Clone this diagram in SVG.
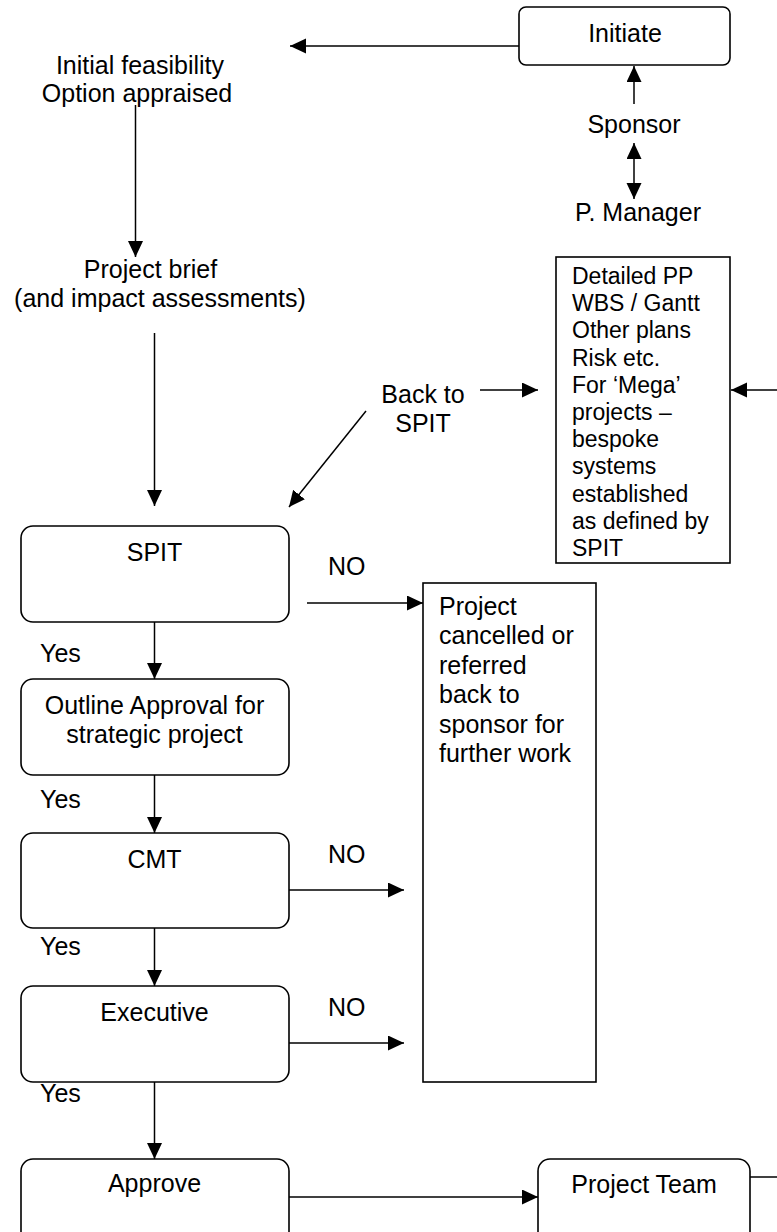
<svg xmlns="http://www.w3.org/2000/svg" width="777" height="1232" viewBox="0 0 777 1232">
  <defs>
    <style>
      text { font-family: "Liberation Sans", Arial, sans-serif; font-size: 25px; fill: #000; }
      .mid { text-anchor: middle; }
      .small { font-size: 23px; }
      .box { fill: #fff; stroke: #000; stroke-width: 1.6; }
      .edge { fill: none; stroke: #000; stroke-width: 1.5; }
    </style>
    <marker id="arrow" markerUnits="userSpaceOnUse" markerWidth="17" markerHeight="16" refX="16" refY="7.5" orient="auto-start-reverse">
      <path d="M0,0 L16,7.5 L0,15 z" fill="#000"/>
    </marker>
  </defs>

  <rect width="777" height="1232" fill="#fff"/>

  <!-- connectors -->
  <g id="connectors">
    <line class="edge" x1="519" y1="46" x2="290" y2="46" marker-end="url(#arrow)"/>
    <line class="edge" x1="634" y1="104" x2="634" y2="66" marker-end="url(#arrow)"/>
    <line class="edge" x1="634" y1="143" x2="634" y2="199" marker-start="url(#arrow)" marker-end="url(#arrow)"/>
    <line class="edge" x1="135.5" y1="105" x2="135.5" y2="257" marker-end="url(#arrow)"/>
    <line class="edge" x1="154.5" y1="333" x2="154.5" y2="506" marker-end="url(#arrow)"/>
    <line class="edge" x1="366" y1="411" x2="289" y2="507" marker-end="url(#arrow)"/>
    <line class="edge" x1="480" y1="390" x2="538" y2="390" marker-end="url(#arrow)"/>
    <line class="edge" x1="777" y1="390" x2="731" y2="390" marker-end="url(#arrow)"/>
    <line class="edge" x1="307" y1="603" x2="423" y2="603" marker-end="url(#arrow)"/>
    <line class="edge" x1="154.5" y1="622" x2="154.5" y2="679" marker-end="url(#arrow)"/>
    <line class="edge" x1="154.5" y1="775" x2="154.5" y2="833" marker-end="url(#arrow)"/>
    <line class="edge" x1="289" y1="890" x2="404" y2="890" marker-end="url(#arrow)"/>
    <line class="edge" x1="154.5" y1="928" x2="154.5" y2="986" marker-end="url(#arrow)"/>
    <line class="edge" x1="289" y1="1043" x2="404" y2="1043" marker-end="url(#arrow)"/>
    <line class="edge" x1="154.5" y1="1082" x2="154.5" y2="1159" marker-end="url(#arrow)"/>
    <line class="edge" x1="289" y1="1197" x2="538" y2="1197" marker-end="url(#arrow)"/>
    <line class="edge" x1="750" y1="1177" x2="777" y2="1177"/>
  </g>

  <!-- edge labels -->
  <g id="labels">
    <text x="328" y="575">NO</text>
    <text x="328" y="863">NO</text>
    <text x="328" y="1016">NO</text>
    <text x="40" y="662">Yes</text>
    <text x="40" y="808">Yes</text>
    <text x="40" y="955">Yes</text>
    <text x="40" y="1102">Yes</text>
  </g>

  <g id="initiate">
    <rect class="box" x="519" y="7" width="211" height="58" rx="7"/>
    <text class="mid" x="625" y="42">Initiate</text>
  </g>

  <g id="sponsor">
    <text class="mid" x="634" y="133">Sponsor</text>
  </g>

  <g id="p-manager">
    <text class="mid" x="638" y="221">P. Manager</text>
  </g>

  <g id="feasibility">
    <text class="mid" x="140" y="74">Initial feasibility</text>
    <text class="mid" x="137" y="102">Option appraised</text>
  </g>

  <g id="project-brief">
    <text class="mid" x="150.5" y="278">Project brief</text>
    <text class="mid" x="160" y="307">(and impact assessments)</text>
  </g>

  <g id="back-to-spit">
    <text class="mid" x="423" y="403">Back to</text>
    <text class="mid" x="423" y="432">SPIT</text>
  </g>

  <g id="detailed-plan">
    <rect class="box" x="556" y="257" width="174" height="306"/>
    <text class="small" x="572" y="284">Detailed PP</text>
    <text class="small" x="572" y="311.2">WBS / Gantt</text>
    <text class="small" x="572" y="338.4">Other plans</text>
    <text class="small" x="572" y="365.6">Risk etc.</text>
    <text class="small" x="572" y="392.8">For ‘Mega’</text>
    <text class="small" x="572" y="420">projects –</text>
    <text class="small" x="572" y="447.2">bespoke</text>
    <text class="small" x="572" y="474.4">systems</text>
    <text class="small" x="572" y="501.6">established</text>
    <text class="small" x="572" y="528.8">as defined by</text>
    <text class="small" x="572" y="556">SPIT</text>
  </g>

  <g id="spit">
    <rect class="box" x="21" y="526" width="268" height="96" rx="12"/>
    <text class="mid" x="154.5" y="561">SPIT</text>
  </g>

  <g id="cancelled">
    <rect class="box" x="423" y="583" width="173" height="499"/>
    <text x="439" y="615">Project</text>
    <text x="439" y="644">cancelled or</text>
    <text x="439" y="674">referred</text>
    <text x="439" y="703">back to</text>
    <text x="439" y="733">sponsor for</text>
    <text x="439" y="762">further work</text>
  </g>

  <g id="outline-approval">
    <rect class="box" x="21" y="679" width="268" height="96" rx="12"/>
    <text class="mid" x="154.5" y="714">Outline Approval for</text>
    <text class="mid" x="154.5" y="743">strategic project</text>
  </g>

  <g id="cmt">
    <rect class="box" x="21" y="833" width="268" height="95" rx="12"/>
    <text class="mid" x="154.5" y="868">CMT</text>
  </g>

  <g id="executive">
    <rect class="box" x="21" y="986" width="268" height="96" rx="12"/>
    <text class="mid" x="154.5" y="1021">Executive</text>
  </g>

  <g id="approve">
    <rect class="box" x="21" y="1159" width="268" height="96" rx="12"/>
    <text class="mid" x="154.5" y="1192">Approve</text>
  </g>

  <g id="project-team">
    <rect class="box" x="538" y="1159" width="212" height="96" rx="12"/>
    <text class="mid" x="644" y="1193">Project Team</text>
  </g>
</svg>
